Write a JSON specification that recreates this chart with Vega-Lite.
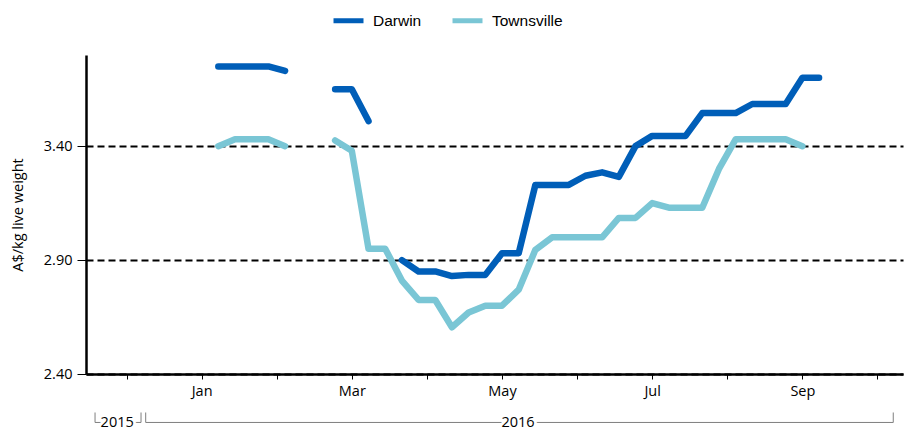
{
  "$schema": "https://vega.github.io/schema/vega-lite/v6.json",
  "width": 817,
  "height": 319,
  "autosize": {"type": "none"},
  "padding": {"left": 86, "top": 55, "right": 6, "bottom": 56},
  "background": "white",
  "config": {"view": {"stroke": null}, "font": "Open Sans"},
  "datasets": {
    "prices": [
      {"week": "2016-01-29", "region": "Darwin", "price": 3.75},
      {"week": "2016-02-05", "region": "Darwin", "price": 3.75},
      {"week": "2016-02-12", "region": "Darwin", "price": 3.75},
      {"week": "2016-02-19", "region": "Darwin", "price": 3.75},
      {"week": "2016-02-26", "region": "Darwin", "price": 3.73},
      {"week": "2016-03-04", "region": "Darwin", "price": null},
      {"week": "2016-03-11", "region": "Darwin", "price": null},
      {"week": "2016-03-18", "region": "Darwin", "price": 3.65},
      {"week": "2016-03-25", "region": "Darwin", "price": 3.65},
      {"week": "2016-04-01", "region": "Darwin", "price": 3.51},
      {"week": "2016-04-08", "region": "Darwin", "price": null},
      {"week": "2016-04-15", "region": "Darwin", "price": 2.90},
      {"week": "2016-04-22", "region": "Darwin", "price": 2.85},
      {"week": "2016-04-29", "region": "Darwin", "price": 2.85},
      {"week": "2016-05-06", "region": "Darwin", "price": 2.83},
      {"week": "2016-05-13", "region": "Darwin", "price": 2.835},
      {"week": "2016-05-20", "region": "Darwin", "price": 2.835},
      {"week": "2016-05-27", "region": "Darwin", "price": 2.93},
      {"week": "2016-06-03", "region": "Darwin", "price": 2.93},
      {"week": "2016-06-10", "region": "Darwin", "price": 3.23},
      {"week": "2016-06-17", "region": "Darwin", "price": 3.23},
      {"week": "2016-06-24", "region": "Darwin", "price": 3.23},
      {"week": "2016-07-01", "region": "Darwin", "price": 3.27},
      {"week": "2016-07-08", "region": "Darwin", "price": 3.285},
      {"week": "2016-07-15", "region": "Darwin", "price": 3.265},
      {"week": "2016-07-22", "region": "Darwin", "price": 3.40},
      {"week": "2016-07-29", "region": "Darwin", "price": 3.445},
      {"week": "2016-08-05", "region": "Darwin", "price": 3.445},
      {"week": "2016-08-12", "region": "Darwin", "price": 3.445},
      {"week": "2016-08-19", "region": "Darwin", "price": 3.545},
      {"week": "2016-08-26", "region": "Darwin", "price": 3.545},
      {"week": "2016-09-02", "region": "Darwin", "price": 3.545},
      {"week": "2016-09-09", "region": "Darwin", "price": 3.585},
      {"week": "2016-09-16", "region": "Darwin", "price": 3.585},
      {"week": "2016-09-23", "region": "Darwin", "price": 3.585},
      {"week": "2016-09-30", "region": "Darwin", "price": 3.70},
      {"week": "2016-10-07", "region": "Darwin", "price": 3.70},
      {"week": "2016-01-29", "region": "Townsville", "price": 3.40},
      {"week": "2016-02-05", "region": "Townsville", "price": 3.43},
      {"week": "2016-02-12", "region": "Townsville", "price": 3.43},
      {"week": "2016-02-19", "region": "Townsville", "price": 3.43},
      {"week": "2016-02-26", "region": "Townsville", "price": 3.40},
      {"week": "2016-03-04", "region": "Townsville", "price": null},
      {"week": "2016-03-11", "region": "Townsville", "price": null},
      {"week": "2016-03-18", "region": "Townsville", "price": 3.425},
      {"week": "2016-03-25", "region": "Townsville", "price": 3.38},
      {"week": "2016-04-01", "region": "Townsville", "price": 2.95},
      {"week": "2016-04-08", "region": "Townsville", "price": 2.95},
      {"week": "2016-04-15", "region": "Townsville", "price": 2.81},
      {"week": "2016-04-22", "region": "Townsville", "price": 2.725},
      {"week": "2016-04-29", "region": "Townsville", "price": 2.725},
      {"week": "2016-05-06", "region": "Townsville", "price": 2.605},
      {"week": "2016-05-13", "region": "Townsville", "price": 2.67},
      {"week": "2016-05-20", "region": "Townsville", "price": 2.70},
      {"week": "2016-05-27", "region": "Townsville", "price": 2.70},
      {"week": "2016-06-03", "region": "Townsville", "price": 2.77},
      {"week": "2016-06-10", "region": "Townsville", "price": 2.945},
      {"week": "2016-06-17", "region": "Townsville", "price": 3.00},
      {"week": "2016-06-24", "region": "Townsville", "price": 3.00},
      {"week": "2016-07-01", "region": "Townsville", "price": 3.00},
      {"week": "2016-07-08", "region": "Townsville", "price": 3.00},
      {"week": "2016-07-15", "region": "Townsville", "price": 3.085},
      {"week": "2016-07-22", "region": "Townsville", "price": 3.085},
      {"week": "2016-07-29", "region": "Townsville", "price": 3.15},
      {"week": "2016-08-05", "region": "Townsville", "price": 3.13},
      {"week": "2016-08-12", "region": "Townsville", "price": 3.13},
      {"week": "2016-08-19", "region": "Townsville", "price": 3.13},
      {"week": "2016-08-26", "region": "Townsville", "price": 3.30},
      {"week": "2016-09-02", "region": "Townsville", "price": 3.43},
      {"week": "2016-09-09", "region": "Townsville", "price": 3.43},
      {"week": "2016-09-16", "region": "Townsville", "price": 3.43},
      {"week": "2016-09-23", "region": "Townsville", "price": 3.43},
      {"week": "2016-09-30", "region": "Townsville", "price": 3.40}
    ],
    "years": [
      {"year": "2015", "start": "2015-12-08T07:00:00Z", "mid": "2015-12-17T14:00:00Z", "end": "2015-12-27T14:00:00Z"},
      {"year": "2016", "start": "2015-12-29T13:00:00Z", "mid": "2016-06-02T17:00:00Z", "end": "2016-11-07T03:00:00Z"}
    ]
  },
  "layer": [
    {
      "data": {"name": "prices"},
      "mark": {"type": "line", "strokeWidth": 6.5, "strokeCap": "round", "strokeJoin": "round", "invalid": "break-paths-filter-domains"},
      "encoding": {
        "x": {
          "field": "week", "type": "temporal",
          "scale": {"type": "utc", "nice": false, "domain": [
            {"year": 2015, "month": 12, "date": 4, "hours": 12, "utc": true},
            {"year": 2016, "month": 11, "date": 11, "hours": 5, "utc": true}
          ]},
          "axis": {
            "title": null,
            "grid": false,
            "values": [
              {"year": 2015, "month": 12, "date": 21, "hours": 12, "utc": true},
              {"year": 2016, "month": 1, "date": 22, "hours": 0, "utc": true},
              {"year": 2016, "month": 2, "date": 22, "hours": 12, "utc": true},
              {"year": 2016, "month": 3, "date": 25, "hours": 0, "utc": true},
              {"year": 2016, "month": 4, "date": 25, "hours": 12, "utc": true},
              {"year": 2016, "month": 5, "date": 27, "hours": 0, "utc": true},
              {"year": 2016, "month": 6, "date": 27, "hours": 12, "utc": true},
              {"year": 2016, "month": 7, "date": 29, "hours": 0, "utc": true},
              {"year": 2016, "month": 8, "date": 29, "hours": 12, "utc": true},
              {"year": 2016, "month": 9, "date": 30, "hours": 0, "utc": true},
              {"year": 2016, "month": 10, "date": 31, "hours": 12, "utc": true}
            ],
            "labelExpr": "utchours(datum.value) == 0 ? utcFormat(datum.value, '%b') : ''",
            "labelOverlap": false,
            "labelFlush": false,
            "labelFont": "Open Sans",
            "labelFontSize": 14.5,
            "labelColor": "#000000",
            "labelPadding": 5,
            "tickSize": 5,
            "tickColor": "#000000",
            "tickWidth": 1,
            "domainColor": "#000000",
            "domainWidth": 2.5
          }
        },
        "y": {
          "field": "price", "type": "quantitative",
          "scale": {"domain": [2.4, 3.8], "nice": false, "zero": false},
          "axis": {
            "title": "A$/kg live weight",
            "titleFont": "Open Sans",
            "titleFontSize": 14.5,
            "titleFontWeight": "normal",
            "titleColor": "#000000",
            "titlePadding": 18,
            "values": [2.4, 2.9, 3.4],
            "format": ".2f",
            "labelFont": "Open Sans",
            "labelFontSize": 14.5,
            "labelColor": "#000000",
            "labelPadding": 5,
            "tickSize": 9,
            "tickColor": "#000000",
            "tickWidth": 1,
            "domainColor": "#000000",
            "domainWidth": 2.5,
            "grid": true,
            "gridColor": "#000000",
            "gridOpacity": 1,
            "gridWidth": 2,
            "gridDash": [7, 4]
          }
        },
        "color": {
          "field": "region", "type": "nominal",
          "scale": {"domain": ["Darwin", "Townsville"], "range": ["#005EB8", "#7AC6D5"]},
          "legend": {
            "title": null,
            "orient": "none",
            "direction": "horizontal",
            "legendX": 245,
            "legendY": -52,
            "padding": 0,
            "symbolType": "stroke",
            "symbolSize": 900,
            "symbolStrokeWidth": 5,
            "labelFont": "Liberation Sans",
            "labelFontSize": 15.5,
            "labelColor": "#000000",
            "labelOffset": 7,
            "columnPadding": 20
          }
        }
      }
    },
    {
      "data": {"name": "years"},
      "mark": {"type": "rule", "color": "#7f7f7f", "strokeWidth": 1},
      "encoding": {
        "x": {"field": "start", "type": "temporal"},
        "y": {"datum": 2.2311, "type": "quantitative"},
        "y2": {"datum": 2.1873}
      }
    },
    {
      "data": {"name": "years"},
      "mark": {"type": "rule", "color": "#7f7f7f", "strokeWidth": 1},
      "encoding": {
        "x": {"field": "end", "type": "temporal"},
        "y": {"datum": 2.2311, "type": "quantitative"},
        "y2": {"datum": 2.1873}
      }
    },
    {
      "data": {"name": "years"},
      "mark": {"type": "rule", "color": "#7f7f7f", "strokeWidth": 1},
      "encoding": {
        "x": {"field": "start", "type": "temporal"},
        "x2": {"field": "end"},
        "y": {"datum": 2.1873, "type": "quantitative"}
      }
    },
    {
      "data": {"name": "years"},
      "mark": {"type": "text", "font": "Open Sans", "fontSize": 14.5, "baseline": "alphabetic", "align": "center", "fill": "white", "stroke": "white", "strokeWidth": 6},
      "encoding": {
        "x": {"field": "mid", "type": "temporal"},
        "y": {"datum": 2.1675, "type": "quantitative"},
        "text": {"field": "year"}
      }
    },
    {
      "data": {"name": "years"},
      "mark": {"type": "text", "font": "Open Sans", "fontSize": 14.5, "baseline": "alphabetic", "align": "center", "color": "#000000"},
      "encoding": {
        "x": {"field": "mid", "type": "temporal"},
        "y": {"datum": 2.1675, "type": "quantitative"},
        "text": {"field": "year"}
      }
    }
  ]
}
